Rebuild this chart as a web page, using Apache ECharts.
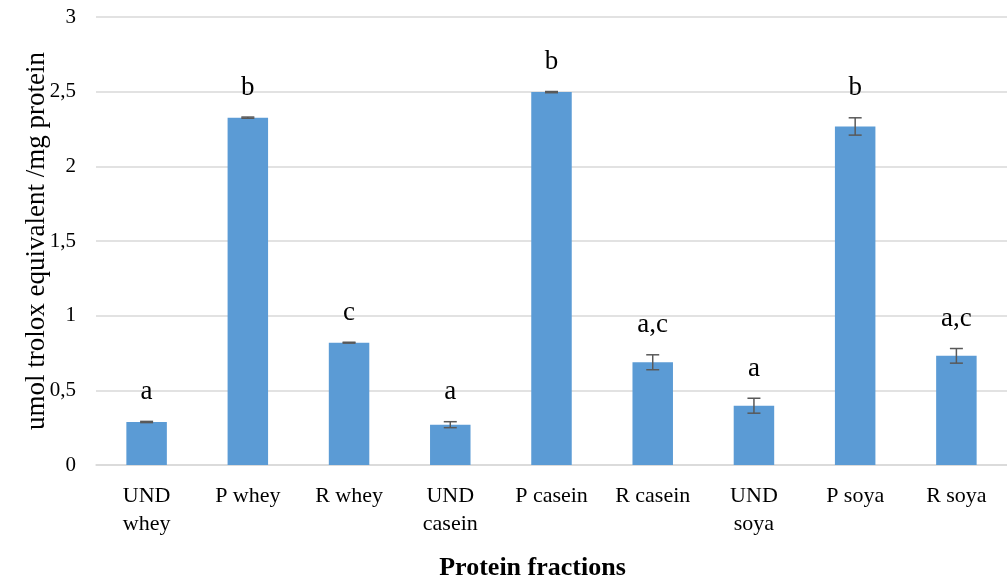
<!DOCTYPE html>
<html>
<head>
<meta charset="utf-8">
<script src="https://cdn.jsdelivr.net/npm/echarts@6/dist/echarts.min.js"></script>
<style>
  html, body { margin: 0; padding: 0; background: #fff; }
  #chart { width: 1007px; height: 586px; }
</style>
</head>
<body>
<div id="chart"></div>
<script>
// Antioxidant capacity by protein fraction
const categories = ['UND\nwhey', 'P whey', 'R whey', 'UND\ncasein', 'P casein', 'R casein', 'UND\nsoya', 'P soya', 'R soya'];
const values = [0.288, 2.326, 0.819, 0.27, 2.497, 0.688, 0.397, 2.267, 0.731];
const errors = [0.004, 0.004, 0.003, 0.02, 0.004, 0.05, 0.05, 0.058, 0.049];
const letters = ['a', 'b', 'c', 'a', 'b', 'a,c', 'a', 'b', 'a,c'];
const yTicks = [0, 0.5, 1, 1.5, 2, 2.5, 3];

const FONT = 'Liberation Serif';

const chart = echarts.init(document.getElementById('chart'), null, { renderer: 'canvas' });

const errData = values.map((v, i) => [i, v, errors[i]]);

chart.setOption({
  animation: false,
  backgroundColor: '#ffffff',
  grid: { left: 96, right: -12, top: 17, bottom: 112, containLabel: false },
  xAxis: {
    type: 'category',
    data: categories,
    axisLine: { show: true, lineStyle: { color: '#d9d9d9', width: 1.5 } },
    axisTick: { show: false },
    axisLabel: {
      interval: 0,
      color: '#000',
      fontFamily: FONT,
      fontSize: 22,
      lineHeight: 28,
      margin: 17
    },
    name: 'Protein fractions',
    nameLocation: 'middle',
    nameGap: 90,
    nameMoveOverlap: false,
    nameTextStyle: {
      fontFamily: FONT, fontSize: 26, fontWeight: 'bold', color: '#000',
      padding: [0, 38, 0, 0]
    }
  },
  yAxis: {
    type: 'value',
    min: yTicks[0],
    max: yTicks[yTicks.length - 1],
    interval: 0.5,
    axisLine: { show: false },
    axisTick: { show: false },
    splitLine: { lineStyle: { color: '#d9d9d9', width: 1.5 } },
    axisLabel: {
      color: '#000',
      fontFamily: FONT,
      fontSize: 21,
      margin: 20,
      formatter: v => String(v).replace('.', ',')
    },
    name: 'umol trolox equivalent /mg protein',
    nameLocation: 'middle',
    nameGap: 46,
    nameMoveOverlap: false,
    nameTextStyle: { fontFamily: FONT, fontSize: 27, color: '#000' }
  },
  series: [
    {
      type: 'bar',
      data: values,
      barWidth: '40%',
      itemStyle: { color: '#5b9bd5' }
    },
    {
      type: 'custom',
      data: errData,
      z: 10,
      renderItem: function (params, api) {
        const i = api.value(0);
        const v = api.value(1);
        const e = api.value(2);
        const hi = api.coord([i, v + e]);
        const lo = api.coord([i, v - e]);
        const cap = 6.5;
        const style = { stroke: '#595959', lineWidth: 1.5 };
        return {
          type: 'group',
          children: [
            { type: 'line', shape: { x1: hi[0], y1: hi[1], x2: lo[0], y2: lo[1] }, style },
            { type: 'line', shape: { x1: hi[0] - cap, y1: hi[1], x2: hi[0] + cap, y2: hi[1] }, style },
            { type: 'line', shape: { x1: lo[0] - cap, y1: lo[1], x2: lo[0] + cap, y2: lo[1] }, style },
            {
              type: 'text',
              style: {
                x: hi[0],
                y: hi[1] - 16,
                text: letters[params.dataIndex],
                fill: '#000',
                font: '27px "' + FONT + '"',
                textAlign: 'center',
                textVerticalAlign: 'bottom'
              }
            }
          ]
        };
      }
    }
  ]
});
</script>
</body>
</html>
